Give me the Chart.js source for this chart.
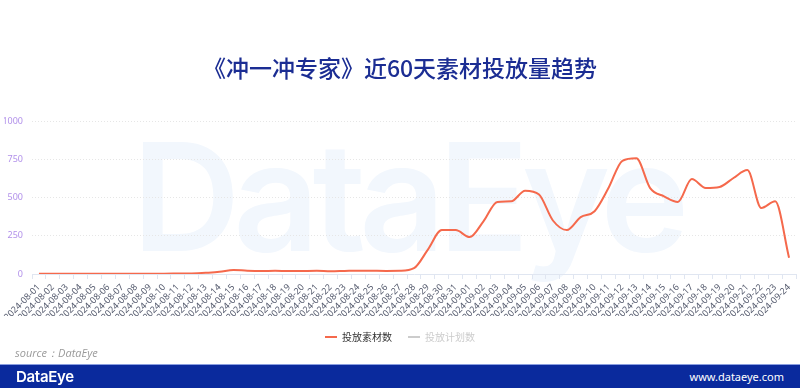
<!DOCTYPE html>
<html>
<head>
<meta charset="utf-8">
<script src="https://cdn.jsdelivr.net/npm/chart.js@4/dist/chart.umd.min.js"></script>
<style>
  html, body { margin: 0; padding: 0; background: #fff; }
  body { width: 800px; height: 388px; position: relative; overflow: hidden; font-family: "Noto Sans CJK SC", "Noto Sans", sans-serif; }
  #watermark {
    position: absolute; left: 132px; top: 122px;
    font-family: Inter, sans-serif; font-weight: 600; font-size: 150px; letter-spacing: -7px;
    color: #f2f7fd; line-height: 1; white-space: nowrap;
  }
  #wrap { position: absolute; left: 0; top: 0; width: 800px; height: 354px; }
  #source { position: absolute; left: 15px; top: 345px; font-size: 11px; font-style: italic; color: #9a9a9a; font-family: "Open Sans", sans-serif; }
  #footer {
    position: absolute; left: 0; top: 364px; width: 800px; height: 24px;
    background: #0a2a9d; border-top: 1px solid #8a9ee0; box-sizing: border-box;
  }
  #footer .logo { position: absolute; left: 16px; top: 2px; color: #fff; font-family: Inter, sans-serif; font-weight: 600; font-size: 15px; letter-spacing: -0.3px; }
  #footer .url { position: absolute; right: 16px; top: 4px; color: #fff; font-family: "Noto Sans", sans-serif; font-size: 11px; }
</style>
</head>
<body>
<div id="watermark">DataEye</div>
<div id="wrap"><canvas id="trendChart"></canvas></div>
<div id="source">source：DataEye</div>
<div id="footer"><span class="logo">DataEye</span><span class="url">www.dataeye.com</span></div>
<script>
const dates = [
  '2024-08-01','2024-08-02','2024-08-03','2024-08-04','2024-08-05','2024-08-06','2024-08-07','2024-08-08',
  '2024-08-09','2024-08-10','2024-08-11','2024-08-12','2024-08-13','2024-08-14','2024-08-15','2024-08-16',
  '2024-08-17','2024-08-18','2024-08-19','2024-08-20','2024-08-21','2024-08-22','2024-08-23','2024-08-24',
  '2024-08-25','2024-08-26','2024-08-27','2024-08-28','2024-08-29','2024-08-30','2024-08-31','2024-09-01',
  '2024-09-02','2024-09-03','2024-09-04','2024-09-05','2024-09-06','2024-09-07','2024-09-08','2024-09-09',
  '2024-09-10','2024-09-11','2024-09-12','2024-09-13','2024-09-14','2024-09-15','2024-09-16','2024-09-17',
  '2024-09-18','2024-09-19','2024-09-20','2024-09-21','2024-09-22','2024-09-23','2024-09-24'
];

// 投放素材数
const materialCounts = [
  2, 2, 2, 2, 2, 2, 2, 2,
  2, 2, 3, 4, 8, 14, 27, 22,
  20, 21, 19, 20, 21, 18, 20, 22,
  21, 20, 21, 38, 160, 288, 288, 242,
  346, 473, 477, 547, 521, 351, 288, 373,
  412, 564, 743, 760, 564, 510, 473, 623,
  564, 571, 630, 682, 433, 477, 107
];

// 投放计划数 (series switched off in the legend)
const planCounts = [];

const yTicks = [0, 250, 500, 750, 1000];

const ctx = document.getElementById('trendChart').getContext('2d');

new Chart(ctx, {
  type: 'line',
  data: {
    labels: dates,
    datasets: [
      {
        label: '投放素材数',
        data: materialCounts,
        borderColor: '#f5694c',
        backgroundColor: '#f5694c',
        borderWidth: 2,
        pointRadius: 0,
        tension: 0.4,
        cubicInterpolationMode: 'monotone'
      },
      {
        label: '投放计划数',
        data: planCounts,
        borderColor: '#cccccc',
        backgroundColor: '#cccccc',
        borderWidth: 2,
        pointRadius: 0,
        hidden: true
      }
    ]
  },
  options: {
    responsive: true,
    maintainAspectRatio: false,
    animation: false,
    layout: { padding: { left: 4, right: 4, top: 0, bottom: 2 } },
    scales: {
      x: {
        offset: true,
        afterFit: s => { s.paddingLeft = 0; s.paddingRight = 0; s.height = 42; },
        grid: { offset: true, drawOnChartArea: false, color: '#e0e6f1', tickLength: 5 },
        border: { color: '#e0e6f1' },
        ticks: {
          autoSkip: false,
          minRotation: 45,
          maxRotation: 45,
          color: '#555b6e',
          padding: 3,
          font: { size: 9, family: 'Noto Sans' }
        }
      },
      y: {
        min: 0,
        max: 1000,
        afterFit: s => { s.width = 28; },
        afterBuildTicks: axis => { axis.ticks = yTicks.map(v => ({ value: v })); },
        grid: { color: '#e6e6e6', drawTicks: false },
        border: { display: false, dash: [1, 2] },
        ticks: {
          color: '#b291ea',
          padding: 9,
          font: { size: 9, family: 'Noto Sans' },
          callback: v => String(v)
        }
      }
    },
    plugins: {
      title: {
        display: true,
        text: '《冲一冲专家》近60天素材投放量趋势',
        color: '#1b2d93',
        font: { size: 23, family: 'Noto Sans CJK SC', weight: '500' },
        padding: { top: 54, bottom: 40 }
      },
      legend: {
        position: 'bottom',
        onClick: null,
        labels: {
          usePointStyle: true,
          pointStyle: 'line',
          pointStyleWidth: 12,
          boxHeight: 10,
          padding: 16,
          font: { size: 10, family: 'Noto Sans CJK SC' },
          generateLabels: chart => chart.data.datasets.map((ds, i) => {
            const off = !chart.isDatasetVisible(i);
            return {
              text: ds.label,
              datasetIndex: i,
              hidden: false,
              pointStyle: 'line',
              lineWidth: 2,
              strokeStyle: off ? '#cccccc' : ds.borderColor,
              fillStyle: off ? '#cccccc' : ds.borderColor,
              fontColor: off ? '#cccccc' : '#333333'
            };
          })
        }
      },
      tooltip: { enabled: false }
    }
  }
});
</script>
</body>
</html>
